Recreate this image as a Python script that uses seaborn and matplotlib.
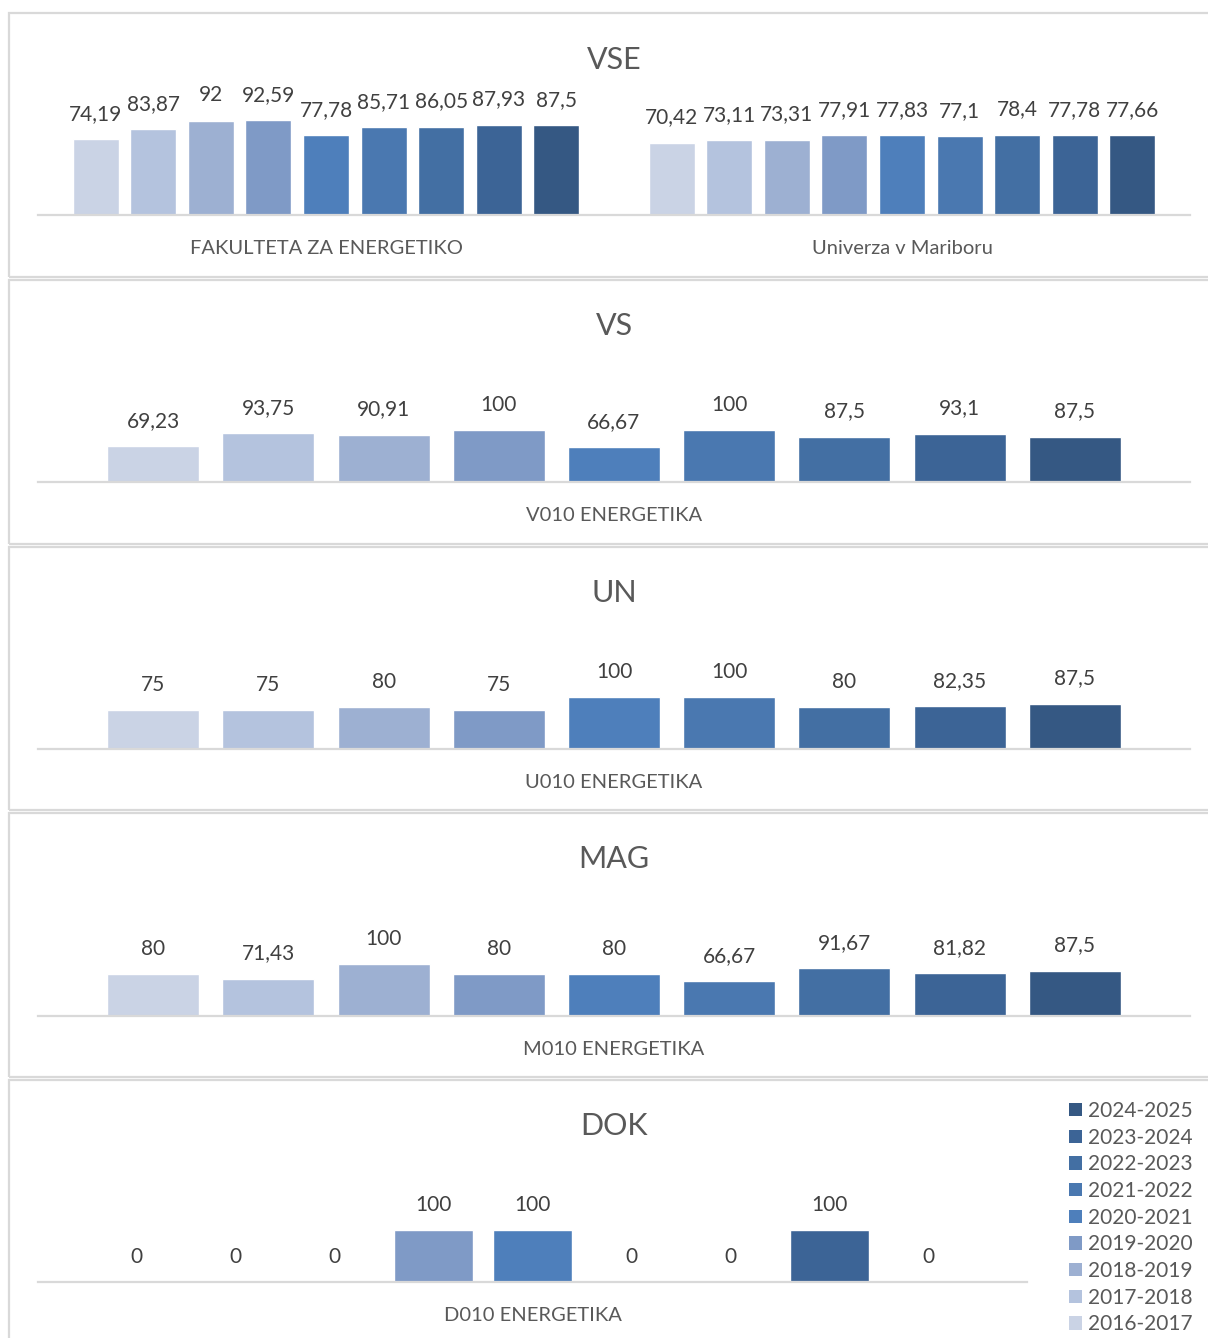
import numpy as np
import pandas as pd
import matplotlib
matplotlib.use('Agg')
import matplotlib.pyplot as plt
import seaborn as sns
from matplotlib.patches import Rectangle, Patch

# Data
years = ['2016-2017', '2017-2018', '2018-2019', '2019-2020', '2020-2021',
         '2021-2022', '2022-2023', '2023-2024', '2024-2025']
colors = ['#CAD3E5', '#B4C3DE', '#9DB0D2', '#7F9AC6', '#4E7FBB',
          '#4A78B0', '#436FA3', '#3C6496', '#355883']

vse_programs = ['FAKULTETA ZA ENERGETIKO', 'Univerza v Mariboru']
vse_fe = [74.19, 83.87, 92, 92.59, 77.78, 85.71, 86.05, 87.93, 87.5]
vse_um = [70.42, 73.11, 73.31, 77.91, 77.83, 77.1, 78.4, 77.78, 77.66]

vs_program = 'V010 ENERGETIKA'
vs_vals = [69.23, 93.75, 90.91, 100, 66.67, 100, 87.5, 93.1, 87.5]

un_program = 'U010 ENERGETIKA'
un_vals = [75, 75, 80, 75, 100, 100, 80, 82.35, 87.5]

mag_program = 'M010 ENERGETIKA'
mag_vals = [80, 71.43, 100, 80, 80, 66.67, 91.67, 81.82, 87.5]

dok_program = 'D010 ENERGETIKA'
dok_vals = [0, 0, 0, 100, 100, 0, 0, 100, 0]

titles = ['VSE', 'VS', 'UN', 'MAG', 'DOK']

sns.set_theme(style='white')
plt.rcParams['font.family'] = ['Lato', 'DejaVu Sans']

W, H = 1208, 1338
fig = plt.figure(figsize=(W / 100, H / 100), dpi=100)


def make_df(programs, series):
    rows = []
    for prog, vals in zip(programs, series):
        for yr, v in zip(years, vals):
            rows.append({'program': prog, 'year': yr, 'value': v})
    return pd.DataFrame(rows)


def fmt(v):
    return f"{v:g}".replace('.', ',')


panels = [
    (make_df(vse_programs, [vse_fe, vse_um]), 215, 102.6, 38, 1190, 60, 13, 277),
    (make_df([vs_program], [vs_vals]), 482, 52, 38, 1190, 326, 280, 544),
    (make_df([un_program], [un_vals]), 749, 52, 38, 1190, 593, 547, 810),
    (make_df([mag_program], [mag_vals]), 1016, 52, 38, 1190, 859, 813, 1077),
    (make_df([dok_program], [dok_vals]), 1282, 52, 38, 1027, 1126, 1080, 1400),
]

for i, (df, base, h, x0, x1, ty, ftop, fbot) in enumerate(panels):
    # panel frame
    fig.add_artist(Rectangle((9 / W, 1 - fbot / H), (1220 - 9) / W, (fbot - ftop) / H,
                             transform=fig.transFigure, fill=False,
                             edgecolor='#D9D9D9', linewidth=1.6))
    ax = fig.add_axes([x0 / W, 1 - base / H, (x1 - x0) / W, h / H])
    sns.barplot(data=df, x='program', y='value', hue='year', hue_order=years,
                palette=colors, width=0.9, gap=0.2, ax=ax, legend=False,
                saturation=1)
    ax.set_ylim(0, 100)
    for c in ax.containers:
        ax.bar_label(c, labels=[fmt(b.get_height()) for b in c], padding=11,
                     fontsize=15, color='#404040')
    ax.set_xlabel('')
    ax.set_ylabel('')
    ax.set_yticks([])
    ax.tick_params(axis='x', length=0, pad=18, labelsize=14.5, labelcolor='#595959')
    for s in ['top', 'left', 'right']:
        ax.spines[s].set_visible(False)
    ax.spines['bottom'].set_color('#D9D9D9')
    ax.spines['bottom'].set_linewidth(1.6)
    ax.patch.set_alpha(0)
    fig.text(614 / W, 1 - ty / H, titles[i], ha='center', va='center',
             fontsize=22, color='#595959')

# Legend
handles = [Patch(facecolor=c, edgecolor='none', label=y) for y, c in zip(years, colors)]
fig.legend(handles=handles[::-1], loc='upper left', bbox_to_anchor=(1069 / W, 1 - 1101 / H),
           frameon=False, fontsize=15, labelcolor='#595959', handlelength=0.62,
           handleheight=0.62, handletextpad=0.3, labelspacing=0.32, borderaxespad=0,
           borderpad=0)

fig.savefig('out.png', dpi=100)
